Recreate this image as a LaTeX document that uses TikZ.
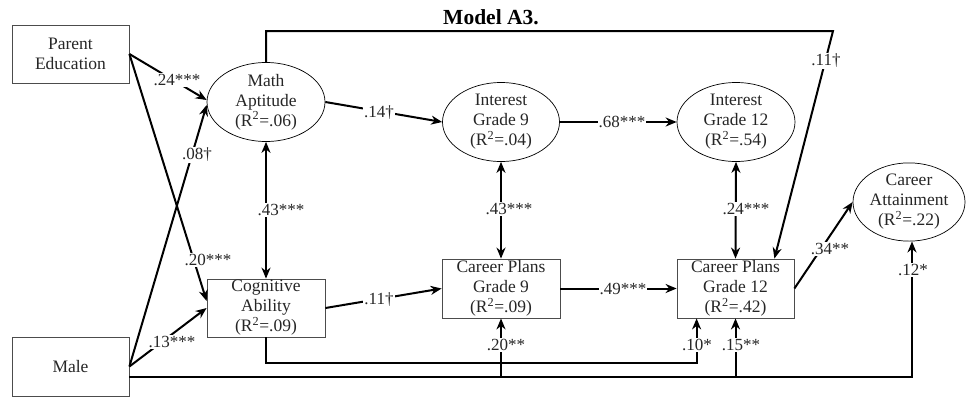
\documentclass[tikz,border=0pt]{standalone}
\usepackage{fontspec}
\setmainfont{Liberation Serif}
\usetikzlibrary{shapes.geometric,arrows.meta,calc}
\begin{document}
\begin{tikzpicture}[x=1pt,y=-1pt,
  txt/.style={font=\fontsize{17.5}{20}\selectfont, text=black!85, align=center},
  boxn/.style={txt, draw=black!70, line width=0.8pt, rectangle, inner sep=0pt},
  elln/.style={txt, draw=black, line width=0.7pt, ellipse, inner sep=0pt},
  lab/.style={font=\fontsize{17}{19}\selectfont, text=black!85, fill=white, inner sep=1pt},
  conn/.style={line width=2pt, -{Stealth[length=11pt,width=9pt,inset=3.5pt]}},
  corr/.style={line width=2pt, {Stealth[length=11pt,width=9pt,inset=3.5pt]}-{Stealth[length=11pt,width=9pt,inset=3.5pt]}},
]
\useasboundingbox (0,0) rectangle (966,397);

\node[font=\fontsize{21.5}{24}\selectfont\bfseries] (title) at (491,17) {Model A3.};

\node[boxn, minimum width=117pt, minimum height=58pt] (PE) at (70.5,54) {Parent\\Education};
\node[boxn, minimum width=117pt, minimum height=59pt] (Male) at (70.5,366.5) {Male};
\node[elln, minimum width=118pt, minimum height=79pt] (MA) at (266,102) {Math\\Aptitude\\(R\textsuperscript{2}=.06)};
\node[elln, minimum width=117pt, minimum height=79pt] (IG9) at (501,122) {Interest\\Grade 9\\(R\textsuperscript{2}=.04)};
\node[elln, minimum width=118pt, minimum height=79pt] (IG12) at (736,122) {Interest\\Grade 12\\(R\textsuperscript{2}=.54)};
\node[elln, minimum width=112pt, minimum height=78pt] (CA) at (909,202) {Career\\Attainment\\(R\textsuperscript{2}=.22)};
\node[boxn, minimum width=118pt, minimum height=58pt] (CogA) at (266,308) {Cognitive\\Ability\\(R\textsuperscript{2}=.09)};
\node[boxn, minimum width=118pt, minimum height=59pt] (CP9) at (501,288.5) {Career Plans\\Grade 9\\(R\textsuperscript{2}=.09)};
\node[boxn, minimum width=117pt, minimum height=59pt] (CP12) at (735.5,288.5) {Career Plans\\Grade 12\\(R\textsuperscript{2}=.42)};

% directed paths
\draw[conn] (PE.east) -- ($(MA.west)+(0,-2)$);
\draw[conn] (PE.east) -- ($(CogA.west)+(0,-7)$);
\draw[conn] (Male.east) -- ($(MA.west)+(0,3)$);
\draw[conn] (Male.east) -- (CogA.west);
\draw[conn] (MA.east) -- (IG9.west);
\draw[conn] (IG9.east) -- (IG12.west);
\draw[conn] (CogA.east) -- (CP9.west);
\draw[conn] (CP9.east) -- (CP12.west);
\draw[conn] (CP12.east) -- (CA.west);

% correlations
\draw[corr] (MA.south) -- (CogA.north);
\draw[corr] (IG9.south) -- (CP9.north);
\draw[corr] (IG12.south) -- (CP12.north);

% top path
\coordinate (tr) at (833,31);
\coordinate (cp12t) at ($(CP12.north east)+(-20,0)$);
\draw[conn] (MA.north) |- (tr) -- (cp12t);

% bottom paths
\coordinate (c10) at ($(CP12.south west)+(20,0)$);
\draw[conn] (CogA.south) |- ($(c10)+(0,45)$) -- (c10);
\coordinate (m0) at ($(Male.east)+(0,10.5)$);
\coordinate (caB) at ($(CA.south)+(3,0)$);
\draw[conn] (m0) -| (caB);
\draw[conn] (CP9.south |- m0) -- (CP9.south);
\draw[conn] (CP12.south |- m0) -- (CP12.south);

% labels
\node[lab] (l24) at (177,80) {.24***};
\node[lab] (l20a) at (208,260) {.20***};
\node[lab] (l08) at (197,155) {.08†};
\node[lab] (l13) at (172,342) {.13***};
\node[lab] (l43a) at (281,210) {.43***};
\node[lab] (l14) at (379,113) {.14†};
\node[lab] (l11a) at (379,300) {.11†};
\node[lab] (l43b) at (509,209) {.43***};
\node[lab] (l68) at (622,122) {.68***};
\node[lab] (l49) at (623,289) {.49***};
\node[lab] (l24b) at (746,209) {.24***};
\node[lab] (l11b) at (826,61) {.11†};
\node[lab] (l34) at (830,249) {.34**};
\node[lab] (l12) at (913,270) {.12*};
\node[lab] (l20b) at (506,345) {.20**};
\node[lab] (l10) at (697,345) {.10*};
\node[lab] (l15) at (741,345) {.15**};
\end{tikzpicture}
\end{document}
